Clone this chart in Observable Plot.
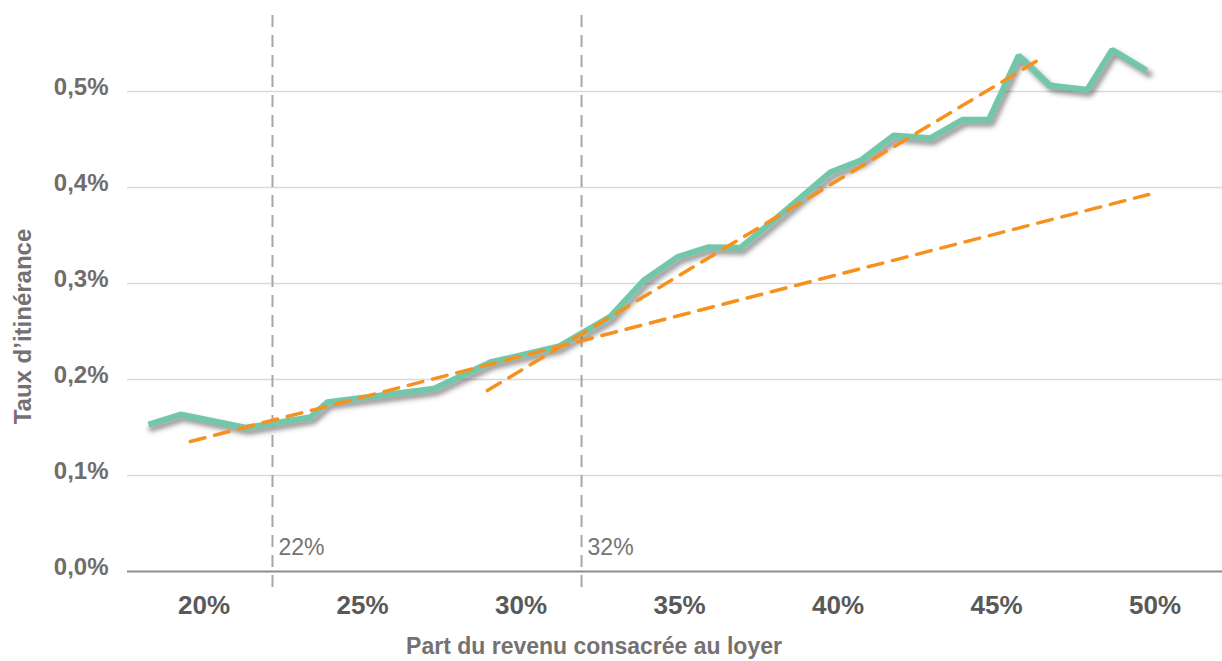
<!DOCTYPE html>
<html>
<head>
<meta charset="utf-8">
<script src="https://cdn.jsdelivr.net/npm/d3@7"></script>
<script src="https://cdn.jsdelivr.net/npm/@observablehq/plot@0.6"></script>
<style>
  html, body { margin: 0; padding: 0; background: #ffffff; }
  svg { display: block; }
</style>
</head>
<body>
<div id="chart"></div>
<script>
// ---- Data ----
// Part du revenu consacrée au loyer (%)
const rentShare = [18.25, 19.26, 21.31, 23.36, 23.89, 27.25, 29.04, 31.19, 32.82, 33.87,
                   34.93, 35.92, 36.92, 38.25, 39.76, 40.71, 41.76, 42.92, 43.92, 44.76,
                   45.70, 46.68, 47.86, 48.65, 49.73];
// Taux d'itinérance (%)
const homelessRate = [0.153, 0.1635, 0.1497, 0.1607, 0.1764, 0.1903, 0.218, 0.2344, 0.2656, 0.3031,
                      0.3274, 0.3378, 0.3372, 0.3734, 0.4159, 0.4281, 0.4542, 0.4514, 0.4705, 0.4705,
                      0.5375, 0.5063, 0.5018, 0.5434, 0.5219];

// Linear trend lines (endpoints)
const trendLowX = [19.57, 49.80];
const trendLowY = [0.1354, 0.3927];
const trendHighX = [28.94, 46.45];
const trendHighY = [0.1885, 0.5354];

// Threshold markers
const thresholdPos = [22.16, 31.91];
const thresholdLabels = ["22%", "32%"];

// Axes
const xTickValues = [20, 25, 30, 35, 40, 45, 50];
const xTickLabels = ["20%", "25%", "30%", "35%", "40%", "45%", "50%"];
const yTickValues = [0, 0.1, 0.2, 0.3, 0.4, 0.5];
const yTickLabels = ["0,0%", "0,1%", "0,2%", "0,3%", "0,4%", "0,5%"];
const xTitle = "Part du revenu consacrée au loyer";
const yTitle = "Taux d\u2019itinérance";

const xDomain = [17.587, 52.129];
const yDomain = [0, 0.5792];
const ruleTop = 0.5792;
const ruleBottom = -0.02;

// ---- Build tables ----
const obs = rentShare.map((x, i) => ({x, y: homelessRate[i]}));
const trendLow = trendLowX.map((x, i) => ({x, y: trendLowY[i]}));
const trendHigh = trendHighX.map((x, i) => ({x, y: trendHighY[i]}));
const xLabelMap = new Map(xTickValues.map((v, i) => [v, xTickLabels[i]]));
const yLabelMap = new Map(yTickValues.map((v, i) => [v, yTickLabels[i]]));

const FONT = "'Liberation Sans', Arial, sans-serif";
const GREEN = "#71c7a8";
const ORANGE = "#f7911e";

const chart = Plot.plot({
  width: 1222,
  height: 661,
  marginLeft: 127,
  marginRight: 0,
  marginTop: 15,
  marginBottom: 90,
  style: {fontFamily: FONT, background: "#ffffff", overflow: "visible"},
  x: {type: "linear", domain: xDomain},
  y: {type: "linear", domain: yDomain},
  marks: [
    Plot.ruleY(yTickValues.filter(d => d > 0), {stroke: "#d9d9d9", strokeWidth: 1.5}),
    Plot.ruleX(thresholdPos, {x: d => d, y1: ruleTop, y2: ruleBottom, stroke: "#a9a6a6", strokeWidth: 2, strokeDasharray: "12,8"}),
    Plot.ruleY([0], {stroke: "#8f8b8b", strokeWidth: 2}),
    Plot.line(obs, {x: "x", y: "y", stroke: "#4a4a4a", strokeOpacity: 0.6, strokeWidth: 6, dx: 3, dy: 4, strokeLinejoin: "miter", ariaDescription: "shadow"}),
    Plot.line(obs, {x: "x", y: "y", stroke: GREEN, strokeWidth: 6, strokeLinejoin: "miter", strokeLinecap: "butt"}),
    Plot.line(trendLow, {x: "x", y: "y", stroke: ORANGE, strokeWidth: 3.5, strokeDasharray: "15,10"}),
    Plot.line(trendHigh, {x: "x", y: "y", stroke: ORANGE, strokeWidth: 3.5, strokeDasharray: "15,10"}),
    Plot.text(thresholdPos, {x: d => d, frameAnchor: "bottom", lineAnchor: "middle", text: (d, i) => thresholdLabels[i], textAnchor: "start", dx: 6, dy: -24, fontSize: 23, fill: "#777272"}),
    Plot.axisX({ticks: xTickValues, tickFormat: d => xLabelMap.get(d), tickSize: 0, tickPadding: 24, fontSize: 26, fontWeight: "bold", fill: "#595959", label: null}),
    Plot.axisY({ticks: yTickValues, tickFormat: d => yLabelMap.get(d), tickSize: 0, tickPadding: 19, fontSize: 24, fontWeight: "bold", fill: "#716d6d", dy: -4, label: null}),
    Plot.text([xTitle], {frameAnchor: "bottom", textAnchor: "middle", lineAnchor: "middle", dx: -81, dy: 75, fontSize: 23, fontWeight: "bold", fill: "#767171"}),
    Plot.text([yTitle], {frameAnchor: "left", textAnchor: "middle", lineAnchor: "middle", rotate: -90, dx: -104, dy: 33, fontSize: 24, fontWeight: "bold", fill: "#767171"})
  ]
});

const svg = d3.select(chart);
const defs = svg.insert("defs", ":first-child");
defs.append("filter").attr("id", "blurShadow").attr("x", "-5%").attr("y", "-5%").attr("width", "110%").attr("height", "110%")
  .append("feGaussianBlur").attr("stdDeviation", 2.5);
svg.select('[aria-description="shadow"]').attr("filter", "url(#blurShadow)");

document.getElementById("chart").appendChild(chart);
</script>
</body>
</html>
